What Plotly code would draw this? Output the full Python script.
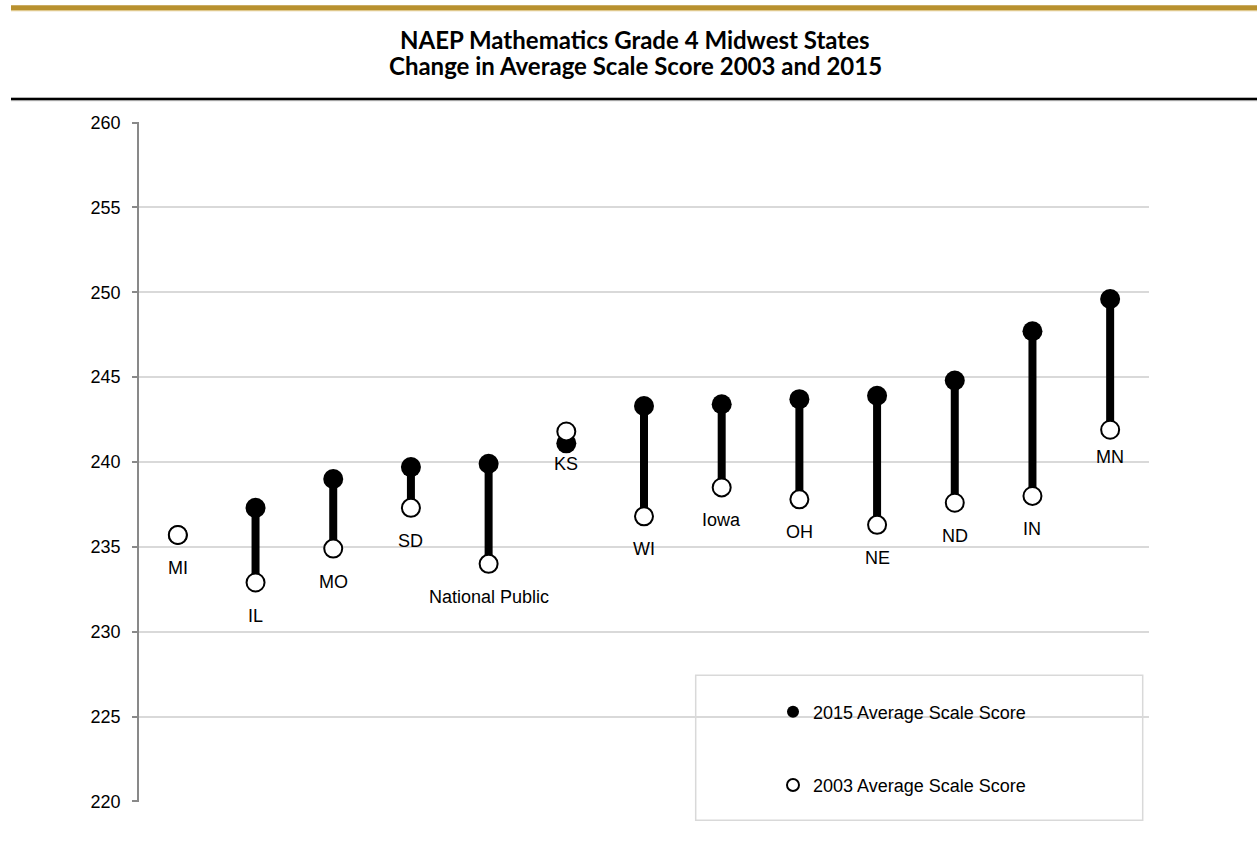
import plotly.graph_objects as go

# ---- data ----
states = ["MI", "IL", "MO", "SD", "National Public", "KS", "WI", "Iowa",
          "OH", "NE", "ND", "IN", "MN"]
score_2015 = [235.7, 237.3, 239.0, 239.7, 239.9, 241.1, 243.3, 243.4,
              243.7, 243.9, 244.8, 247.7, 249.6]
score_2003 = [235.7, 232.9, 234.9, 237.3, 234.0, 241.8, 236.8, 238.5,
              237.8, 236.3, 237.6, 238.0, 241.9]
y_ticks = [220, 225, 230, 235, 240, 245, 250, 255, 260]
title_lines = ["NAEP Mathematics Grade 4 Midwest States",
               "Change in Average Scale Score 2003 and 2015"]

FONT = "Liberation Sans, Arial, sans-serif"

W, H = 1257, 850
# plot area in page pixels
PL, PR, PT, PB = 139, 1149, 121.7, 801.7
L, T = PL, PT
R, B = W - PR, H - PB
pw, ph = PR - PL, PB - PT


def px_x(x):  # page px -> paper x
    return (x - PL) / pw


def px_y(y):  # page px -> paper y
    return (PB - y) / ph


fig = go.Figure()

# stems
sx, sy = [], []
for s, a, b in zip(states, score_2003, score_2015):
    sx += [s, s, None]
    sy += [a, b, None]
fig.add_trace(go.Scatter(x=sx, y=sy, mode="lines",
                         line=dict(color="black", width=8),
                         showlegend=False, hoverinfo="skip"))

fig.add_trace(go.Scatter(x=states, y=score_2015, mode="markers",
                         name="2015 Average Scale Score",
                         marker=dict(color="black", size=20,
                                     line=dict(width=0)),
                         legend="legend"))
fig.add_trace(go.Scatter(x=states, y=score_2003, mode="markers",
                         name="2003 Average Scale Score",
                         marker=dict(color="white", size=18,
                                     line=dict(color="black", width=2)),
                         legend="legend2"))

# category labels under the 2003 points
label_shift = {"MN": -27}
for s, v in zip(states, score_2003):
    fig.add_annotation(x=s, y=v, text=s, showarrow=False,
                       yshift=label_shift.get(s, -33),
                       font=dict(family=FONT, size=18, color="black"))

# title (two lines)
for txt, ypg, hh in zip(title_lines, [38.5, 65.5], [24, None]):
    fig.add_annotation(text="<b>" + txt + "</b>", xref="paper", yref="paper",
                       x=px_x(635), y=px_y(ypg), xanchor="center",
                       yanchor="middle", showarrow=False, height=hh,
                       font=dict(family="Lato, sans-serif", size=24,
                                 color="black"))

x_left, x_right = px_x(11), px_x(1257)
shapes = [
    # legend box
    dict(type="rect", xref="paper", yref="paper",
         x0=px_x(695.7), x1=px_x(1142.7), y0=px_y(820), y1=px_y(675),
         fillcolor="white", line=dict(color="#d9d9d9", width=1.5),
         layer="between"),
    # gold bar
    dict(type="rect", xref="paper", yref="paper",
         x0=x_left, x1=x_right, y0=px_y(9.7), y1=px_y(5),
         fillcolor="#B8912F", line=dict(width=0)),
    dict(type="rect", xref="paper", yref="paper",
         x0=x_left, x1=x_right, y0=px_y(11), y1=px_y(9.7),
         fillcolor="#DFC88C", line=dict(width=0)),
    # black rule
    dict(type="rect", xref="paper", yref="paper",
         x0=x_left, x1=x_right, y0=px_y(97.7), y1=px_y(97),
         fillcolor="#9a9a9a", line=dict(width=0)),
    dict(type="rect", xref="paper", yref="paper",
         x0=x_left, x1=x_right, y0=px_y(100.3), y1=px_y(97.7),
         fillcolor="black", line=dict(width=0)),
    dict(type="rect", xref="paper", yref="paper",
         x0=x_left, x1=x_right, y0=px_y(101), y1=px_y(100.3),
         fillcolor="#c8c8c8", line=dict(width=0)),
]

legend_common = dict(xanchor="left", yanchor="middle", x=px_x(773),
                     bgcolor="rgba(0,0,0,0)", borderwidth=0,
                     itemsizing="constant",
                     font=dict(family=FONT, size=18, color="black"))

fig.update_layout(
    width=W, height=H,
    margin=dict(l=L, r=R, t=T, b=B, autoexpand=False),
    paper_bgcolor="white", plot_bgcolor="white",
    shapes=shapes,
    showlegend=True,
    legend=dict(y=px_y(711.7), **legend_common),
    legend2=dict(y=px_y(785), **legend_common),
    xaxis=dict(type="category", categoryorder="array", categoryarray=states,
               range=[-0.5, len(states) - 0.5], showticklabels=False,
               showgrid=False, zeroline=False, showline=False, ticks=""),
    yaxis=dict(range=[219.97, 260.03], tickvals=y_ticks,
               ticktext=[str(t) for t in y_ticks],
               showgrid=True, gridcolor="#d9d9d9", gridwidth=1.5,
               zeroline=False, showline=True, linecolor="#898989",
               linewidth=1.5, ticks="outside", ticklen=5,
               tickcolor="#898989", tickwidth=1.5,
               tickfont=dict(family=FONT, size=18, color="black"),
               ticklabelstandoff=8),
)

fig.write_html("out.html",
               config={"displayModeBar": False},
               post_script="document.body.style.margin='0';"
                           "document.body.style.padding='0';")
